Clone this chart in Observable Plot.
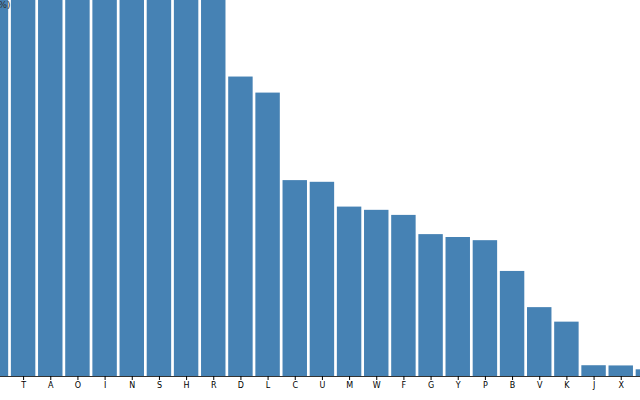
<!DOCTYPE html>
<html>
<head>
<meta charset="utf-8">
<script src="https://cdn.jsdelivr.net/npm/d3@7"></script>
<script src="https://cdn.jsdelivr.net/npm/@observablehq/plot@0.6"></script>
<style>
  html, body { margin: 0; padding: 0; background: white; overflow: hidden; }
  #chart { width: 640px; height: 400px; overflow: hidden; }
</style>
</head>
<body>
<div id="chart"></div>
<script>
const letters = ["E","T","A","O","I","N","S","H","R","D","L","C","U","M","W","F","G","Y","P","B","V","K","J","X","Q","Z"];
const frequency = [12.702, 9.056, 8.167, 7.507, 6.966, 6.749, 6.327, 6.094, 5.987, 4.253, 4.025, 2.782, 2.758, 2.406, 2.360, 2.288, 2.015, 1.974, 1.929, 1.492, 0.978, 0.772, 0.153, 0.150, 0.095, 0.074];
const visibleTicks = ["T","A","O","I","N","S","H","R","D","L","C","U","M","W","F","G","Y","P","B","V","K","J","X"];
const yLabel = "↑ Frequency (%)";

const data = letters.map((letter, i) => ({letter, frequency: frequency[i]}));

const chart = Plot.plot({
  width: 640,
  height: 400,
  marginTop: 0,
  marginBottom: 24,
  marginLeft: 0,
  marginRight: 0,
  style: {fontFamily: "DejaVu Sans, sans-serif", fontSize: "8px"},
  x: {domain: letters, range: [-19, 690], padding: 0.1, round: false, label: null},
  y: {domain: [0, 5.34], axis: null},
  marks: [
    Plot.barY(data, {x: "letter", y: "frequency", fill: "steelblue", clip: true}),
    Plot.ruleY([0], {stroke: "#333"}),
    Plot.axisX({ticks: visibleTicks, tickSize: 4, tickPadding: 2, fontSize: 8, label: null}),
    Plot.text([yLabel], {frameAnchor: "top-left", textAnchor: "end", lineAnchor: "top", dx: 10, dy: 1, fontSize: 9, fill: "#333"})
  ]
});
document.getElementById("chart").appendChild(chart);
</script>
</body>
</html>
